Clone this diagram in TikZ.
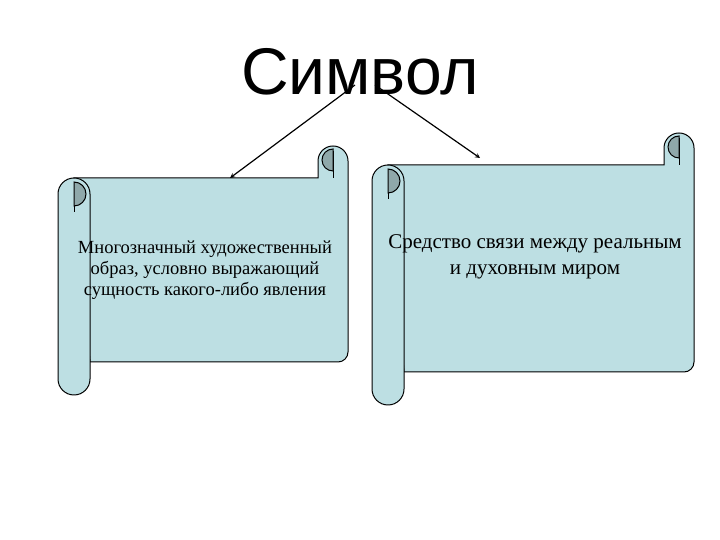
\documentclass[tikz,border=0pt]{standalone}
\usepackage{fontspec}
\setmainfont{Liberation Serif}
\newfontfamily\titlefont{Liberation Sans}
\definecolor{scr}{HTML}{BDDFE3}
\definecolor{scrd}{HTML}{8FA8AA}
\newcommand\myscroll[5]{%
  \filldraw[sc] ({#1+16},#2) -- ({#3-30},#2) -- ({#3-30},{#2+17}) arc[start angle=180,end angle=0,radius=15] -- (#3,{#4+10}) arc[start angle=0,end angle=-90,radius=10] -- ({#1+32},#4) -- cycle;
  \draw[sc,fill=none] ({#3-15},#2) -- ({#3-15},{#2+27});
  \filldraw[scd] ({#3-15},{#2+29}) arc[start angle=90,end angle=270,radius=11] -- cycle;
  \filldraw[sc] (#1,{#2-16}) -- (#1,{#5+16}) arc[start angle=180,end angle=360,radius=16] -- ({#1+32},{#2-16}) arc[start angle=0,end angle=180,radius=16] -- cycle;
  \filldraw[scd] ({#1+16},{#2-4}) arc[start angle=90,end angle=-90,radius=12] -- cycle;
  \draw[sc,fill=none] ({#1+16},{#2-28}) -- ({#1+16},{#2-34});
}
\begin{document}
\begin{tikzpicture}[x=1pt,y=1pt,
  sc/.style={draw=black,fill=scr,line width=1pt},
  scd/.style={draw=black,fill=scrd,line width=1pt},
  arr/.style={-stealth,line width=1.2pt}]
\useasboundingbox (0,0) rectangle (720,540);
\node (title) at (360,468) {\titlefont\fontsize{66}{72}\selectfont Символ};
\myscroll{58}{362}{348}{178}{145}
\myscroll{372}{375}{694}{168}{135}
\node[align=center,font=\fontsize{18.5}{21}\selectfont] (t1) at (205,270) {Многозначный художественный\\образ, условно выражающий\\сущность какого-либо явления};
\node[align=center,font=\fontsize{21}{26}\selectfont] (t2) at (535,283) {Средство связи между реальным\\и духовным миром};
\coordinate (s1) at (355,455);
\coordinate (s2) at (375,455);
\coordinate (e1) at (230,362);
\coordinate (e2) at (480,382);
\draw[arr] (s1) -- (e1);
\draw[arr] (s2) -- (e2);
\end{tikzpicture}
\end{document}
